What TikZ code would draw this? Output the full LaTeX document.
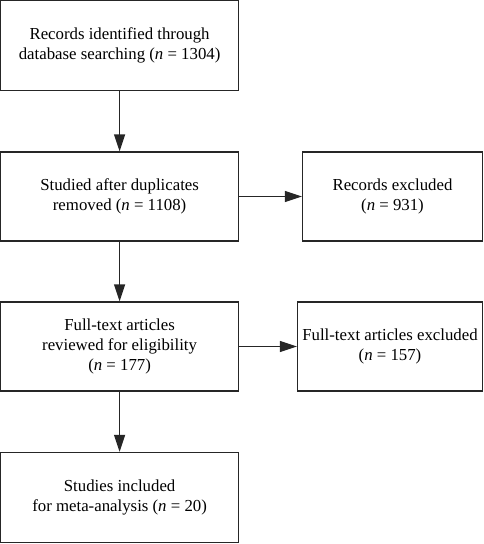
\documentclass[tikz,border=0pt]{standalone}
\usepackage{fontspec}
\setmainfont{Liberation Serif}
\usetikzlibrary{arrows.meta}
\begin{document}
\begin{tikzpicture}[x=1pt,y=1pt,
  box/.style={draw=black!85, line width=1.3pt, align=center, inner sep=0pt,
    font=\fontsize{16.8}{20}\selectfont},
  conn/.style={draw=black!85, line width=1.3pt, -{Triangle[length=17pt,width=11pt]}}]
\useasboundingbox (0,0) rectangle (484,-544);
\node[box, minimum width=238pt, minimum height=90pt] (rec) at (119.6,-45.5)
  {Records identified through\\database searching (\textit{n} = 1304)};
\node[box, minimum width=238pt, minimum height=89pt] (dup) at (119.6,-196.5)
  {Studied after duplicates\\removed (\textit{n} = 1108)};
\node[box, minimum width=180pt, minimum height=89pt] (recx) at (392.5,-196.5)
  {Records excluded\\(\textit{n} = 931)};
\node[box, minimum width=185pt, minimum height=89pt] (ftx) at (390,-346.5)
  {Full-text articles excluded\\(\textit{n} = 157)};
\node[box, minimum width=238pt, minimum height=89pt] (ft) at (119.6,-346.5)
  {Full-text articles\\reviewed for eligibility\\(\textit{n} = 177)};
\node[box, minimum width=238pt, minimum height=90pt] (inc) at (119.6,-497.5)
  {Studies included\\for meta-analysis (\textit{n} = 20)};
\draw[conn] (rec) -- (dup);
\draw[conn] (dup) -- (recx);
\draw[conn] (dup) -- (ft);
\draw[conn] (ft) -- (ftx);
\draw[conn] (ft) -- (inc);
\end{tikzpicture}
\end{document}
